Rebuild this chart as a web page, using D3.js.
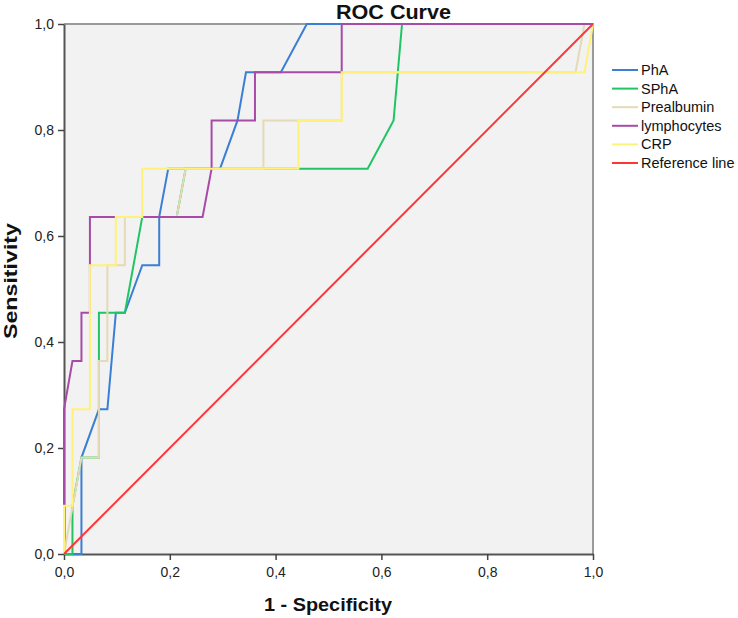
<!DOCTYPE html>
<html>
<head>
<meta charset="utf-8">
<script src="https://cdn.jsdelivr.net/npm/d3@7/dist/d3.min.js"></script>
<style>
  html, body { margin: 0; padding: 0; background: #fff; }
  svg { display: block; font-family: "Liberation Sans", Arial, sans-serif; }
</style>
</head>
<body>
<svg id="chart" width="738" height="618"></svg>
<script>
// ---- data (1 - specificity, sensitivity) ----
const seriesNames = ["PhA", "SPhA", "Prealbumin", "lymphocytes", "CRP", "Reference line"];
const seriesColors = ["#3b7fd4", "#1fc564", "#e4dab4", "#a84ba8", "#fff27a", "#ff3535"];

const phaPoints = [[0,0],[0.033,0],[0.033,0.182],[0.066,0.273],[0.082,0.273],[0.098,0.455],[0.115,0.455],[0.148,0.545],[0.180,0.545],[0.180,0.636],[0.197,0.727],[0.295,0.727],[0.328,0.818],[0.344,0.909],[0.410,0.909],[0.459,1],[1,1]];
const sphaPoints = [[0,0],[0.016,0],[0.016,0.091],[0.033,0.182],[0.066,0.182],[0.066,0.455],[0.115,0.455],[0.148,0.636],[0.213,0.636],[0.230,0.727],[0.574,0.727],[0.623,0.818],[0.631,0.909],[0.639,1],[1,1]];
const prealbuminPoints = [[0,0],[0.033,0.182],[0.066,0.182],[0.066,0.364],[0.082,0.364],[0.082,0.545],[0.115,0.545],[0.115,0.636],[0.213,0.636],[0.230,0.727],[0.377,0.727],[0.377,0.818],[0.525,0.818],[0.525,0.909],[0.967,0.909],[0.984,1],[1,1]];
const lymphocytesPoints = [[0,0],[0,0.273],[0.016,0.364],[0.033,0.364],[0.033,0.455],[0.049,0.455],[0.049,0.636],[0.262,0.636],[0.279,0.727],[0.279,0.818],[0.361,0.818],[0.361,0.909],[0.525,0.909],[0.525,1],[1,1]];
const crpPoints = [[0,0],[0,0.091],[0.016,0.091],[0.016,0.273],[0.049,0.273],[0.049,0.545],[0.098,0.545],[0.098,0.636],[0.148,0.636],[0.148,0.727],[0.443,0.727],[0.443,0.818],[0.525,0.818],[0.525,0.909],[0.984,0.909],[1,1]];
const referencePoints = [[0,0],[1,1]];

const tickValues = [0, 0.2, 0.4, 0.6, 0.8, 1.0];
const tickLabels = ["0,0", "0,2", "0,4", "0,6", "0,8", "1,0"];

const allSeries = [phaPoints, sphaPoints, prealbuminPoints, lymphocytesPoints, crpPoints, referencePoints];

// ---- layout ----
const svg = d3.select("#chart");
const pLeft = 64, pRight = 593, pTop = 24, pBottom = 554;

const x = d3.scaleLinear().domain([0, 1]).range([pLeft, pRight]);
const y = d3.scaleLinear().domain([0, 1]).range([pBottom, pTop]);

// plot background
svg.append("rect")
  .attr("x", pLeft).attr("y", pTop)
  .attr("width", pRight - pLeft).attr("height", pBottom - pTop)
  .attr("fill", "#f2f2f2");

// top & right border
svg.append("path")
  .attr("d", `M${pLeft},${pTop}H${pRight}V${pBottom}`)
  .attr("fill", "none").attr("stroke", "#9a9a9a").attr("stroke-width", 2);

// axes
const fmt = d => tickLabels[tickValues.indexOf(d)];
const xAxis = svg.append("g").attr("transform", `translate(0,${pBottom})`)
  .call(d3.axisBottom(x).tickValues(tickValues).tickFormat(fmt).tickSize(6).tickSizeOuter(0).tickPadding(7));
const yAxis = svg.append("g").attr("transform", `translate(${pLeft},0)`)
  .call(d3.axisLeft(y).tickValues(tickValues).tickFormat(fmt).tickSize(6).tickSizeOuter(0).tickPadding(4));

[xAxis, yAxis].forEach(g => {
  g.select(".domain").attr("stroke", "#555").attr("stroke-width", 2);
  g.selectAll(".tick line").attr("stroke", "#444").attr("stroke-width", 1.5);
  g.selectAll(".tick text").attr("fill", "#222").style("font-size", "14px")
    .style("font-family", '"Liberation Sans", Arial, sans-serif');
});

// curves
const line = d3.line().x(d => x(d[0])).y(d => y(d[1]));
svg.append("g").selectAll("path")
  .data(allSeries)
  .join("path")
  .attr("d", line)
  .attr("fill", "none")
  .attr("stroke", (d, i) => seriesColors[i])
  .attr("stroke-width", 2)
  .attr("stroke-linejoin", "miter");

// title
svg.append("text")
  .attr("x", 336).attr("y", 19)
  .attr("textLength", 115).attr("lengthAdjust", "spacingAndGlyphs")
  .style("font-size", "20px").style("font-weight", "bold").attr("fill", "#111")
  .text("ROC Curve");

// x label
svg.append("text")
  .attr("x", 264).attr("y", 611)
  .attr("textLength", 128).attr("lengthAdjust", "spacingAndGlyphs")
  .style("font-size", "18px").style("font-weight", "bold").attr("fill", "#111")
  .text("1 - Specificity");

// y label
svg.append("text")
  .attr("transform", "translate(17,339) rotate(-90)")
  .attr("textLength", 116).attr("lengthAdjust", "spacingAndGlyphs")
  .style("font-size", "18px").style("font-weight", "bold").attr("fill", "#111")
  .text("Sensitivity");

// legend
const legendY = [70, 88.6, 107.2, 125.8, 144.4, 163];
const lg = svg.append("g");
seriesNames.forEach((name, i) => {
  lg.append("line")
    .attr("x1", 612).attr("x2", 638)
    .attr("y1", legendY[i]).attr("y2", legendY[i])
    .attr("stroke", seriesColors[i]).attr("stroke-width", 2);
  lg.append("text")
    .attr("x", 641).attr("y", legendY[i] + 5)
    .style("font-size", "14.5px").attr("fill", "#111")
    .text(name);
});
</script>
</body>
</html>
